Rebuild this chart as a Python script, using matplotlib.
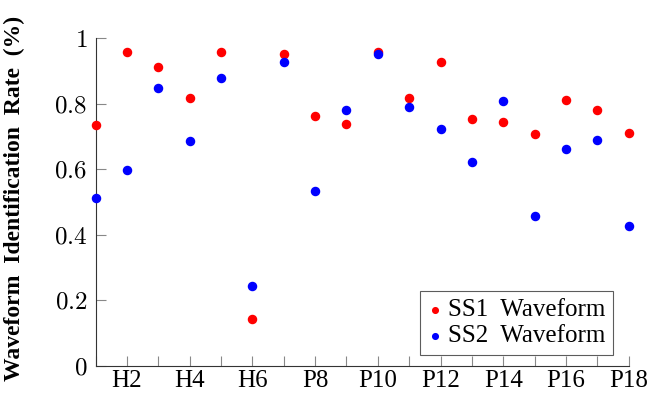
import numpy as np
import matplotlib.pyplot as plt

# categories: H1..H6, P7..P18
cats = ['H1', 'H2', 'H3', 'H4', 'H5', 'H6',
        'P7', 'P8', 'P9', 'P10', 'P11', 'P12',
        'P13', 'P14', 'P15', 'P16', 'P17', 'P18']
ss1 = [0.735, 0.957, 0.911, 0.817, 0.958, 0.143,
       0.952, 0.761, 0.739, 0.957, 0.817, 0.926,
       0.752, 0.745, 0.707, 0.812, 0.781, 0.710]
ss2 = [0.511, 0.598, 0.848, 0.687, 0.877, 0.244,
       0.928, 0.533, 0.781, 0.951, 0.791, 0.722,
       0.623, 0.807, 0.457, 0.662, 0.688, 0.427]
yticks = [0, 0.2, 0.4, 0.6, 0.8, 1]

plt.rcParams['font.family'] = 'Liberation Serif'
plt.rcParams['mathtext.fontset'] = 'cm'

fig = plt.figure(figsize=(6.52, 3.94), dpi=100)
ax = fig.add_axes([0.1465, 0.0718, 0.818, 0.8312])

x = np.arange(1, len(cats) + 1)
ax.scatter(x, ss1, s=34, color='#ff0000', label='SS1  Waveform', clip_on=False, zorder=3)
ax.scatter(x, ss2, s=34, color='#0000ff', label='SS2  Waveform', clip_on=False, zorder=3)

ax.set_xlim(1, 18)
ax.set_ylim(0, 1)
ax.set_xticks(x)
ax.set_xticklabels([c if i % 2 == 1 else '' for i, c in enumerate(cats)], fontsize=18)
ax.set_yticks(yticks)
ax.set_yticklabels([f'${t:g}$' for t in yticks], fontsize=18)
ax.tick_params(direction='in', length=7, color='#888888', width=0.8)
ax.tick_params(axis='x', pad=3)
ax.tick_params(axis='y', pad=6)

for s in ['top', 'right']:
    ax.spines[s].set_visible(False)
for s in ['left', 'bottom']:
    ax.spines[s].set_color('#333333')

ax.set_ylabel('Waveform  Identification  Rate  (%)', fontsize=17, fontweight='bold')
ax.yaxis.set_label_coords(-0.132, 0.51)

leg = ax.legend(loc='lower right', bbox_to_anchor=(0.970, 0.033), borderaxespad=0,
                fontsize=18, frameon=True, fancybox=False, edgecolor='#333333',
                handlelength=0.6, handletextpad=0.2, borderpad=0.3,
                labelspacing=0.15, markerscale=0.7)
leg.get_frame().set_linewidth(0.8)

fig.savefig('out.png', dpi=100)
